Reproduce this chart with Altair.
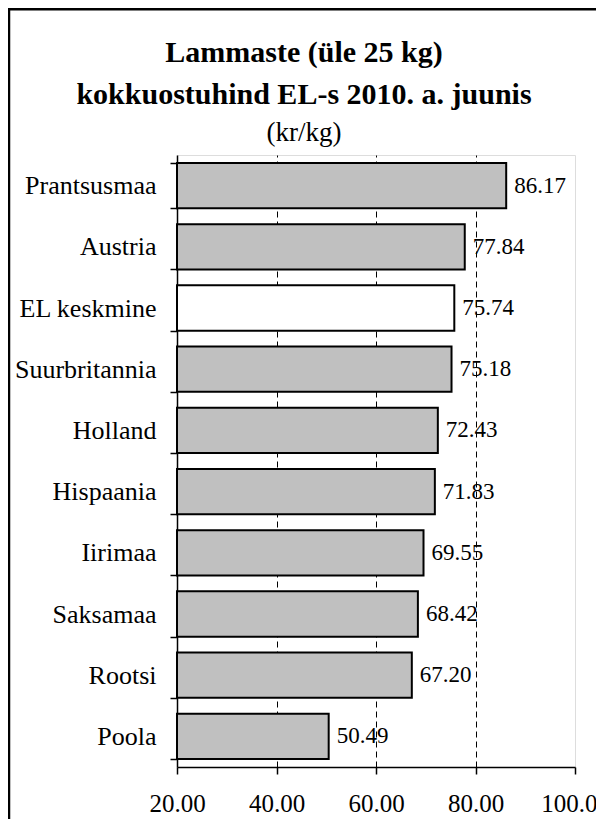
import altair as alt
import pandas as pd

countries = ["Prantsusmaa", "Austria", "EL keskmine", "Suurbritannia", "Holland",
             "Hispaania", "Iirimaa", "Saksamaa", "Rootsi", "Poola"]
values = [86.17, 77.84, 75.74, 75.18, 72.43, 71.83, 69.55, 68.42, 67.20, 50.49]
x_ticks = [20, 40, 60, 80, 100]
title_lines = ["Lammaste (üle 25 kg)", "kokkuostuhind EL-s 2010. a. juunis"]
subtitle = "(kr/kg)"
highlight = "EL keskmine"

df = pd.DataFrame({"riik": countries, "hind": values})
SERIF = "Liberation Serif"

y_enc = alt.Y(
    "riik:N", sort=countries, title=None,
    scale=alt.Scale(paddingInner=0.26, paddingOuter=0.13),
    axis=alt.Axis(labelFont=SERIF, labelFontSize=26, labelColor="black",
                  tickColor="black", tickSize=7, tickWidth=1.5,
                  domainColor="black", domainWidth=1.5,
                  labelPadding=14, tickBand="extent", grid=False),
)
x_scale = alt.Scale(domain=[20, 100], nice=False, zero=False)

grid_opacity = {"condition": {"test": "datum.value == 20 || datum.value == 100", "value": 0},
                "value": 1}

bars = alt.Chart(df).mark_bar(stroke="black", strokeWidth=2).encode(
    y=y_enc,
    x=alt.X("hind:Q", scale=x_scale, title=None,
            axis=alt.Axis(values=x_ticks, format=".2f", labelFont=SERIF,
                          labelFontSize=25, labelColor="black",
                          labelFlush=False, labelOverlap=False,
                          tickColor="black", tickSize=7, tickWidth=1.5,
                          domainColor="black", domainWidth=1.5,
                          labelPadding=17, grid=True, gridColor="black",
                          gridDash=[6, 4], gridWidth=1, gridOpacity=grid_opacity)),
    x2=alt.datum(20),
    fill=alt.condition(alt.datum.riik == highlight, alt.value("white"), alt.value("#c0c0c0")),
)

labels = alt.Chart(df).mark_text(align="left", baseline="middle", dx=8,
                                 font=SERIF, fontSize=23, color="black").encode(
    y=alt.Y("riik:N", sort=countries),
    x=alt.X("hind:Q", scale=x_scale),
    text=alt.Text("hind:Q", format=".2f"),
)

frame = alt.Chart(pd.DataFrame({"a": [0]})).mark_rect(
    filled=False, stroke="black", strokeWidth=2.5).encode(
    x=alt.value(-168), x2=alt.value(700), y=alt.value(-145.8), y2=alt.value(900))

chart = alt.layer(frame, bars, labels).properties(
    width=398, height=612,
    autosize=alt.AutoSizeParams(type="none"),
    padding={"left": 169, "top": 147, "right": 21, "bottom": 52},
    title=alt.TitleParams(
        text=title_lines, subtitle=subtitle, anchor="middle", frame="group",
        dx=-72, dy=147, offset=9, font=SERIF, fontSize=30, fontWeight="bold",
        color="black", lineHeight=42, subtitleFont=SERIF, subtitleFontSize=27,
        subtitleColor="black", subtitlePadding=10),
).configure_view(stroke="#808080", strokeWidth=1.5).configure(background="white")

chart.save("out.html", embed_options={"renderer": "svg", "actions": False})
